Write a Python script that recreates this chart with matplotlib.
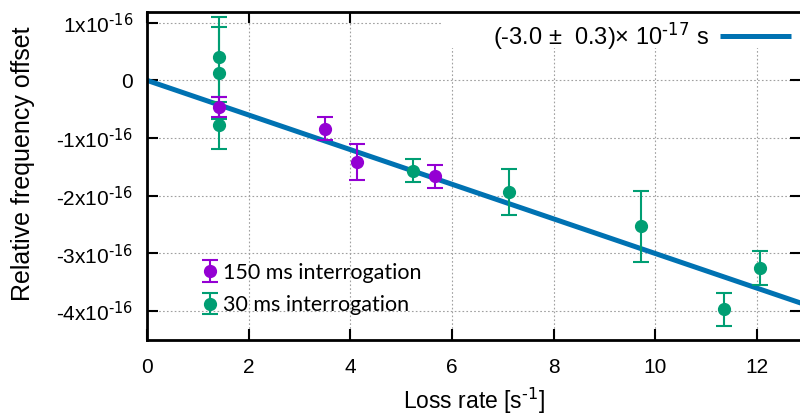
import numpy as np
import matplotlib
matplotlib.use("Agg")
import matplotlib.pyplot as plt
from matplotlib.ticker import FuncFormatter
from matplotlib.patches import Rectangle

plt.rcParams['font.family'] = ['Liberation Sans', 'DejaVu Sans']
plt.rcParams['mathtext.default'] = 'regular'

# data (offsets in units of 1e-16)
x_30 = [1.41, 1.41, 1.41, 5.24, 7.13, 9.72, 11.36, 12.07]
y_30 = [0.40, 0.13, -0.78, -1.565, -1.94, -2.53, -3.97, -3.25]
e_30 = [0.69, 0.80, 0.41, 0.20, 0.40, 0.61, 0.29, 0.30]

x_150 = [1.41, 3.51, 4.14, 5.67]
y_150 = [-0.46, -0.84, -1.41, -1.66]
e_150 = [0.18, 0.20, 0.31, 0.20]

slope = -3.0e-17
fit_label = r"(-3.0 $\pm$  0.3)$\times$ 10$^{\text{-17}}$ s"

green = '#009e73'
purple = '#9400d3'
blue = '#0072b2'

fig = plt.figure(figsize=(8, 4.18), dpi=100)
ax = fig.add_axes([147/800, 1-340/418, 654/800, (340-11.7)/418])

ax.set_xlim(0, 12.87)
ax.set_ylim(-4.5e-16, 1.19e-16)

xs = np.linspace(0, 12.87, 2)
fit, = ax.plot(xs, slope*xs, color=blue, lw=3.6, zorder=2, solid_capstyle='butt')

s30 = ax.errorbar(x_30, np.array(y_30)*1e-16, yerr=np.array(e_30)*1e-16, fmt='o',
                  color=green, ms=8.5, elinewidth=1.5, capsize=6, capthick=1.5, zorder=3)
s150 = ax.errorbar(x_150, np.array(y_150)*1e-16, yerr=np.array(e_150)*1e-16, fmt='o',
                   color=purple, ms=8.5, elinewidth=1.5, capsize=6, capthick=1.5, zorder=4)

ax.set_xticks(range(0, 13, 2))
ax.set_yticks(np.arange(-4, 2)*1e-16)

def yfmt(v, pos):
    n = int(round(v/1e-16))
    if n == 0:
        return "0"
    return f"{n}x10$^{{\\text{{-16}}}}$"

ax.yaxis.set_major_formatter(FuncFormatter(yfmt))
ax.tick_params(direction='in', length=8, width=1.5, labelsize=15,
               top=True, right=True)
ax.tick_params(axis='x', pad=13)
ax.tick_params(axis='y', pad=10)
for sp in ax.spines.values():
    sp.set_linewidth(2)

ax.grid(True, color='#a0a0a0', lw=0.8, linestyle=(0, (1.5, 2)))
ax.set_axisbelow(True)

ax.set_xlabel("Loss rate [s$^{\\text{-1}}$]", fontsize=16.5, labelpad=6)
ax.set_ylabel("Relative frequency offset", fontsize=18)
ax.yaxis.set_label_coords(-0.172, 0.536)

# white key box hides the grid in the top right corner
box = Rectangle((443/800, 1-48/418), 1-443/800, 48/418, transform=fig.transFigure,
                facecolor='white', edgecolor='none', zorder=1)
ax.add_artist(box)
box.set_transform(fig.transFigure)

leg1 = ax.legend(handles=[fit], labels=[fit_label], loc='upper right',
                 bbox_to_anchor=(0.995, 0.995), markerfirst=False, fontsize=17,
                 handlelength=3.0, handletextpad=0.45, borderaxespad=0.0,
                 borderpad=0.3, frameon=False)
ax.add_artist(leg1)

ax.legend(handles=[s150, s30], labels=["150 ms interrogation", "30 ms interrogation"],
          loc='lower left', bbox_to_anchor=(0.053, 0.017),
          prop={'family': 'Lato', 'size': 15.5},
          handlelength=0.8, handletextpad=0.2, labelspacing=0.58,
          frameon=False)

fig.savefig("out.png", dpi=100)
